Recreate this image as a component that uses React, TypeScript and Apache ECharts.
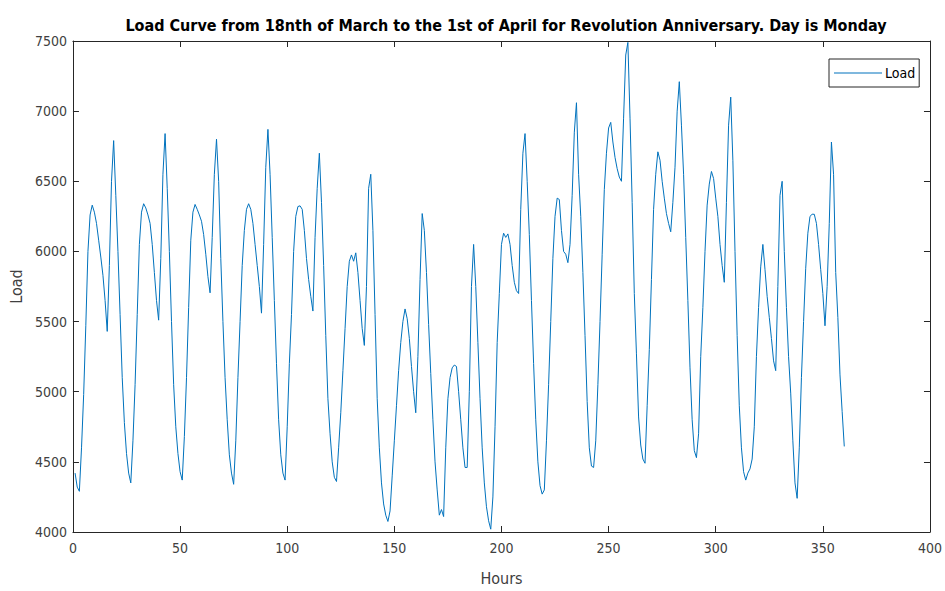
import React, { useEffect, useRef } from "react";
import * as echarts from "echarts";

const TITLE =
  "Load Curve from 18nth of March to the 1st of April for Revolution Anniversary. Day is Monday";

// Hourly load, one array per day (24 hours each)
const day01 = [4420, 4320, 4290, 4600, 4980, 5470, 6000, 6260, 6330, 6280, 6200, 6080, 5960, 5830, 5650, 5430, 5900, 6500, 6790, 6400, 6000, 5550, 5100, 4780];
const day02 = [4560, 4420, 4350, 4650, 5050, 5550, 6050, 6280, 6340, 6310, 6260, 6200, 6050, 5850, 5650, 5510, 5950, 6550, 6840, 6450, 6000, 5500, 5050, 4750];
const day03 = [4560, 4430, 4370, 4680, 5100, 5600, 6080, 6280, 6335, 6300, 6260, 6215, 6120, 5980, 5820, 5705, 6100, 6550, 6800, 6500, 5950, 5500, 5100, 4800];
const day04 = [4550, 4420, 4340, 4650, 5100, 5500, 5900, 6150, 6300, 6340, 6300, 6200, 6050, 5900, 5750, 5560, 6050, 6600, 6870, 6550, 6100, 5650, 5200, 4800];
const day05 = [4550, 4420, 4370, 4750, 5200, 5550, 6000, 6250, 6320, 6325, 6300, 6150, 5950, 5800, 5680, 5575, 6100, 6450, 6700, 6350, 5900, 5400, 4950, 4700];
const day06 = [4500, 4390, 4360, 4600, 4850, 5150, 5450, 5750, 5930, 5975, 5930, 5990, 5850, 5650, 5450, 5330, 5750, 6450, 6550, 6150, 5550, 4950, 4600, 4350];
const day07 = [4200, 4120, 4075, 4150, 4400, 4650, 4900, 5150, 5350, 5500, 5590, 5520, 5380, 5180, 5000, 4850, 5250, 5800, 6270, 6150, 5850, 5480, 5130, 4800];
const day08 = [4500, 4300, 4120, 4160, 4110, 4600, 4950, 5100, 5170, 5190, 5180, 5000, 4800, 4600, 4460, 4460, 5000, 5750, 6050, 5750, 5350, 4950, 4600, 4350];
const day09 = [4180, 4080, 4020, 4250, 4750, 5350, 5700, 6050, 6130, 6100, 6125, 6050, 5900, 5780, 5720, 5700, 6300, 6700, 6840, 6500, 6120, 5650, 5200, 4800];
const day10 = [4500, 4330, 4270, 4300, 4650, 5050, 5500, 5950, 6250, 6380, 6370, 6150, 6000, 5980, 5920, 6050, 6400, 6850, 7060, 6550, 6250, 5850, 5400, 4930];
const day11 = [4600, 4470, 4460, 4650, 5050, 5500, 5980, 6440, 6700, 6880, 6920, 6780, 6670, 6590, 6530, 6500, 6950, 7400, 7490, 6950, 6350, 5700, 5270, 4820];
const day12 = [4620, 4520, 4490, 4900, 5300, 5800, 6300, 6550, 6710, 6650, 6500, 6380, 6270, 6200, 6140, 6350, 6600, 7000, 7210, 6900, 6550, 6100, 5650, 5170];
const day13 = [4800, 4580, 4530, 4700, 5250, 5600, 6000, 6330, 6480, 6570, 6520, 6380, 6250, 6050, 5900, 5780, 6350, 6900, 7100, 6650, 6000, 5400, 4900, 4600];
const day14 = [4430, 4370, 4420, 4450, 4520, 4750, 5250, 5600, 5890, 6050, 5870, 5680, 5530, 5380, 5220, 5150, 5750, 6400, 6500, 6000, 5600, 5250, 4990, 4650];
const day15 = [4350, 4240, 4600, 5100, 5500, 5880, 6130, 6250, 6265, 6265, 6200, 6050, 5870, 5700, 5470, 5750, 6200, 6780, 6550, 5850, 5530, 5120, 4860, 4610];

const loadValues = [
  ...day01, ...day02, ...day03, ...day04, ...day05,
  ...day06, ...day07, ...day08, ...day09, ...day10,
  ...day11, ...day12, ...day13, ...day14, ...day15,
];
const hours = loadValues.map((_, i) => i + 1);

const X_MIN = 0;
const X_MAX = 400;
const X_STEP = 50;
const Y_MIN = 4000;
const Y_MAX = 7500;
const Y_STEP = 500;

export default function App() {
  const ref = useRef<HTMLDivElement>(null);

  useEffect(() => {
    document.body.style.margin = "0";
    const chart = echarts.init(ref.current as HTMLDivElement, null, { renderer: "svg" });
    const FONT = "'Liberation Sans Narrow', 'Arial Narrow', 'DejaVu Sans Condensed', sans-serif";
    const axisColor = "#262626";
    const labelColor = "#404040";
    const lineStyle = { color: axisColor, width: 1 };
    const plain = (v: number) => String(v);

    chart.setOption({
      animation: false,
      backgroundColor: "#ffffff",
      title: {
        text: TITLE,
        left: 501,
        top: 12,
        textAlign: "center",
        textStyle: { fontFamily: FONT, fontWeight: "bold", fontSize: 16, color: "#000000" },
      },
      legend: {
        data: ["Load"],
        left: 829,
        top: 59,
        padding: [6, 4, 6, 5],
        borderColor: axisColor,
        borderWidth: 1,
        backgroundColor: "#ffffff",
        icon: "rect",
        itemWidth: 48,
        itemHeight: 1.2,
        itemGap: 4,
        textStyle: { fontFamily: FONT, fontSize: 14, color: "#000000", lineHeight: 16, padding: [0, 0, 0, -2] },
      },
      grid: { left: 71, top: 41, width: 861, height: 491, containLabel: false },
      xAxis: [
        {
          type: "value",
          min: X_MIN,
          max: X_MAX,
          interval: X_STEP,
          position: "bottom",
          name: "Hours",
          nameLocation: "middle",
          nameGap: 38,
          nameTextStyle: { fontFamily: FONT, fontSize: 16, color: labelColor },
          axisLine: { show: true, onZero: false, lineStyle },
          axisTick: { show: true, inside: true, length: 6, lineStyle },
          axisLabel: { margin: 9, color: labelColor, fontSize: 14, fontFamily: FONT, formatter: plain },
          splitLine: { show: false },
        },
        {
          type: "value",
          min: X_MIN,
          max: X_MAX,
          interval: X_STEP,
          position: "top",
          axisLine: { show: true, onZero: false, lineStyle },
          axisTick: { show: true, inside: true, length: 6, lineStyle },
          axisLabel: { show: false },
          splitLine: { show: false },
        },
      ],
      yAxis: [
        {
          type: "value",
          min: Y_MIN,
          max: Y_MAX,
          interval: Y_STEP,
          position: "left",
          name: "Load",
          nameLocation: "middle",
          nameGap: 47,
          nameTextStyle: { fontFamily: FONT, fontSize: 16, color: labelColor },
          axisLine: { show: true, onZero: false, lineStyle },
          axisTick: { show: true, inside: true, length: 6, lineStyle },
          axisLabel: { margin: 6, color: labelColor, fontSize: 14, fontFamily: FONT, formatter: plain },
          splitLine: { show: false },
        },
        {
          type: "value",
          min: Y_MIN,
          max: Y_MAX,
          interval: Y_STEP,
          position: "right",
          axisLine: { show: true, onZero: false, lineStyle },
          axisTick: { show: true, inside: true, length: 6, lineStyle },
          axisLabel: { show: false },
          splitLine: { show: false },
        },
      ],
      series: [
        {
          type: "line",
          name: "Load",
          xAxisIndex: 0,
          yAxisIndex: 0,
          data: hours.map((h, i) => [h, loadValues[i]]),
          showSymbol: false,
          symbol: "none",
          lineStyle: { color: "#0072BD", width: 1 },
          itemStyle: { color: "#0072BD" },
        },
      ],
    });

    return () => chart.dispose();
  }, []);

  return <div ref={ref} style={{ width: 945, height: 591 }} />;
}
